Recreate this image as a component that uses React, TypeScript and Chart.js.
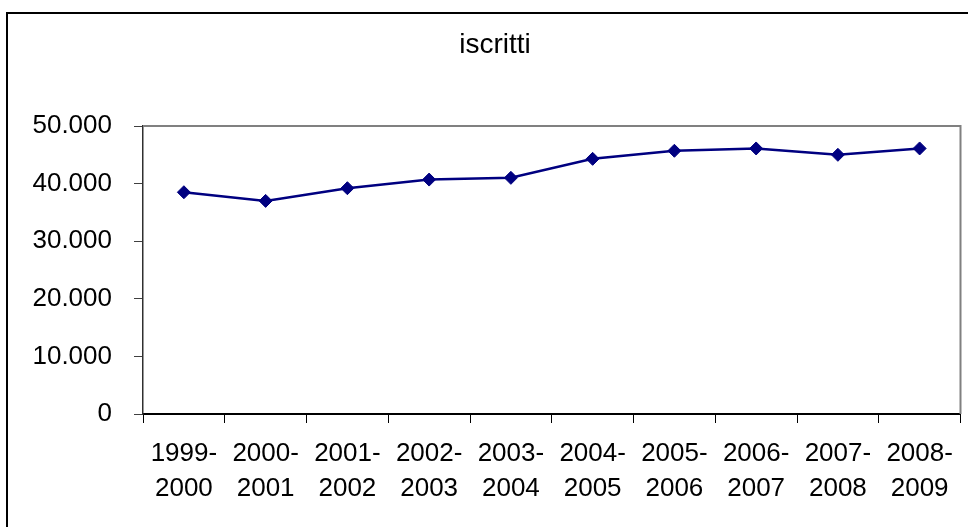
import React, { useEffect, useRef } from 'react';
import { Chart, registerables } from 'chart.js';

Chart.register(...registerables);

const chartTitle = 'iscritti';
const categories: string[][] = [
  ['1999-', '2000'],
  ['2000-', '2001'],
  ['2001-', '2002'],
  ['2002-', '2003'],
  ['2003-', '2004'],
  ['2004-', '2005'],
  ['2005-', '2006'],
  ['2006-', '2007'],
  ['2007-', '2008'],
  ['2008-', '2009'],
];
const iscritti = [38500, 37000, 39200, 40700, 41000, 44300, 45700, 46100, 45000, 46100];
const yMin = 0;
const yMax = 50000;
const yStep = 10000;

const FONT = '"Liberation Sans", Arial, sans-serif';

function fmt(v: number): string {
  return String(Math.round(v)).replace(/\B(?=(\d{3})+(?!\d))/g, '.');
}

const framePlugin = {
  id: 'frame',
  beforeDraw(chart: any) {
    const ctx = chart.ctx;
    ctx.save();
    ctx.fillStyle = '#ffffff';
    ctx.fillRect(0, 0, chart.width, chart.height);
    ctx.strokeStyle = '#000000';
    ctx.lineWidth = 2;
    ctx.strokeRect(7, 13, 1000, 600);
    ctx.restore();
  },
  afterDraw(chart: any) {
    const ctx = chart.ctx;
    const a = chart.chartArea;
    ctx.save();
    ctx.strokeStyle = '#808080';
    ctx.lineWidth = 2;
    ctx.beginPath();
    ctx.moveTo(a.left, a.top);
    ctx.lineTo(a.right, a.top);
    ctx.lineTo(a.right, a.bottom);
    ctx.stroke();
    ctx.fillStyle = '#000000';
    ctx.font = `28px ${FONT}`;
    ctx.textAlign = 'center';
    ctx.textBaseline = 'alphabetic';
    ctx.fillText(chartTitle, 495, 53);
    ctx.restore();
  },
};

export default function App() {
  const ref = useRef<HTMLCanvasElement | null>(null);
  useEffect(() => {
    if (!ref.current) return;
    const chart = new Chart(ref.current, {
      type: 'line',
      data: {
        labels: categories as any,
        datasets: [
          {
            label: chartTitle,
            data: iscritti,
            borderColor: '#000080',
            backgroundColor: '#000080',
            borderWidth: 2.5,
            pointStyle: 'rectRot',
            pointRadius: 6.5,
            pointBorderWidth: 1,
            pointBackgroundColor: '#000080',
            pointBorderColor: '#000080',
            tension: 0,
          },
        ],
      },
      options: {
        responsive: false,
        animation: false,
        events: [],
        layout: { padding: { left: 0, top: 126, right: 7, bottom: 0 } },
        plugins: {
          legend: { display: false },
          title: { display: false },
          tooltip: { enabled: false },
        },
        scales: {
          x: {
            type: 'category',
            offset: true,
            grid: {
              offset: true,
              drawOnChartArea: false,
              drawTicks: true,
              tickLength: 9,
              color: '#000000',
              lineWidth: 1,
            },
            border: { display: true, color: '#000000', width: 2 },
            ticks: {
              color: '#000000',
              font: { family: FONT, size: 26, lineHeight: 1.35 },
              padding: 13,
              maxRotation: 0,
              autoSkip: false,
            },
            afterFit: (scale: any) => {
              scale.height = 113;
            },
          },
          y: {
            min: yMin,
            max: yMax,
            grid: {
              drawOnChartArea: false,
              drawTicks: true,
              tickLength: 9,
              color: '#404040',
              lineWidth: 1,
            },
            border: { display: true, color: '#303030', width: 1.5 },
            ticks: {
              stepSize: yStep,
              color: '#000000',
              font: { family: FONT, size: 26 },
              padding: 22,
              callback: (v: any) => fmt(Number(v)),
            },
            afterFit: (scale: any) => {
              scale.width = 143;
            },
          },
        },
      },
      plugins: [framePlugin],
    });
    return () => chart.destroy();
  }, []);
  return (
    <div style={{ position: 'absolute', left: 0, top: 0, width: 968, height: 527 }}>
      <canvas ref={ref} width={968} height={527} style={{ display: 'block' }} />
    </div>
  );
}
